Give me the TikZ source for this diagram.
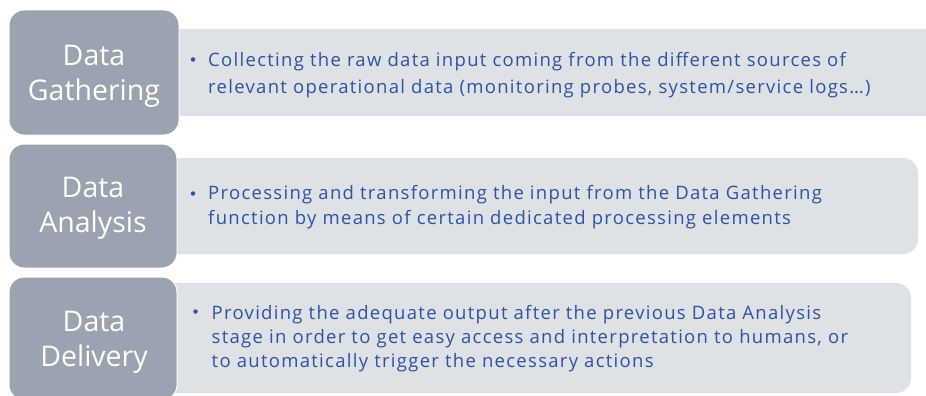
\documentclass[tikz,border=0pt]{standalone}
\usepackage{fontspec}
\setmainfont{Open Sans}
\newfontfamily\descfont[LetterSpace=7]{Open Sans}
\definecolor{darkbox}{RGB}{154,163,175}
\definecolor{lightbox}{RGB}{222,225,229}
\definecolor{txtblue}{RGB}{45,84,160}
\begin{document}
\begin{tikzpicture}[x=1pt,y=-1pt,
  stagebox/.style={fill=darkbox,draw=white,line width=1pt,rounded corners=15pt},
  descbox/.style={fill=lightbox,rounded corners=15pt},
  stagelabel/.style={text=white,font=\fontsize{28.5}{35}\selectfont,align=center,inner sep=0pt},
  desc/.style={text=txtblue,align=left,inner sep=0pt,anchor=north west},
  bulletdot/.style={circle,fill=txtblue,inner sep=0pt,minimum size=4.5pt}]
\useasboundingbox (0,0) rectangle (926,396);
% description boxes
\fill[descbox] (150,29) rectangle (960,116);
\fill[descbox] (150,158) rectangle (918,254);
\fill[descbox] (150,283) rectangle (911,393);
% stage boxes
\draw[stagebox] (9,10) rectangle (179,135);
\draw[stagebox] (9,144) rectangle (177,268);
\draw[stagebox] (9,277) rectangle (177,400);
% labels
\node[stagelabel] (l1) at (94,76) {Data\\Gathering};
\node[stagelabel] (l2) at (93,208.5) {Data\\Analysis};
\node[stagelabel] (l3) at (94,342) {Data\\Delivery};
% bullets
\node[bulletdot] (b1) at (193,59.5) {};
\node[bulletdot] (b2) at (193,193.5) {};
\node[bulletdot] (b3) at (195.5,311.5) {};
% descriptions
\node[desc,font=\descfont\fontsize{18.5}{26.7}\selectfont] (d1) at (208,52) {Collecting the raw data input coming from the different sources of\\relevant operational data (monitoring probes, system/service logs…)};
\node[desc,font=\descfont\fontsize{18.5}{25}\selectfont] (d2) at (208,185.3) {Processing and transforming the input from the Data Gathering\\function by means of certain dedicated processing elements};
\node[desc,font=\descfont\fontsize{18.5}{24}\selectfont] (d3) at (211.5,305) {Providing the adequate output after the previous Data Analysis\\stage in order to get easy access and interpretation to humans, or\\to automatically trigger the necessary actions};
\end{tikzpicture}
\end{document}
